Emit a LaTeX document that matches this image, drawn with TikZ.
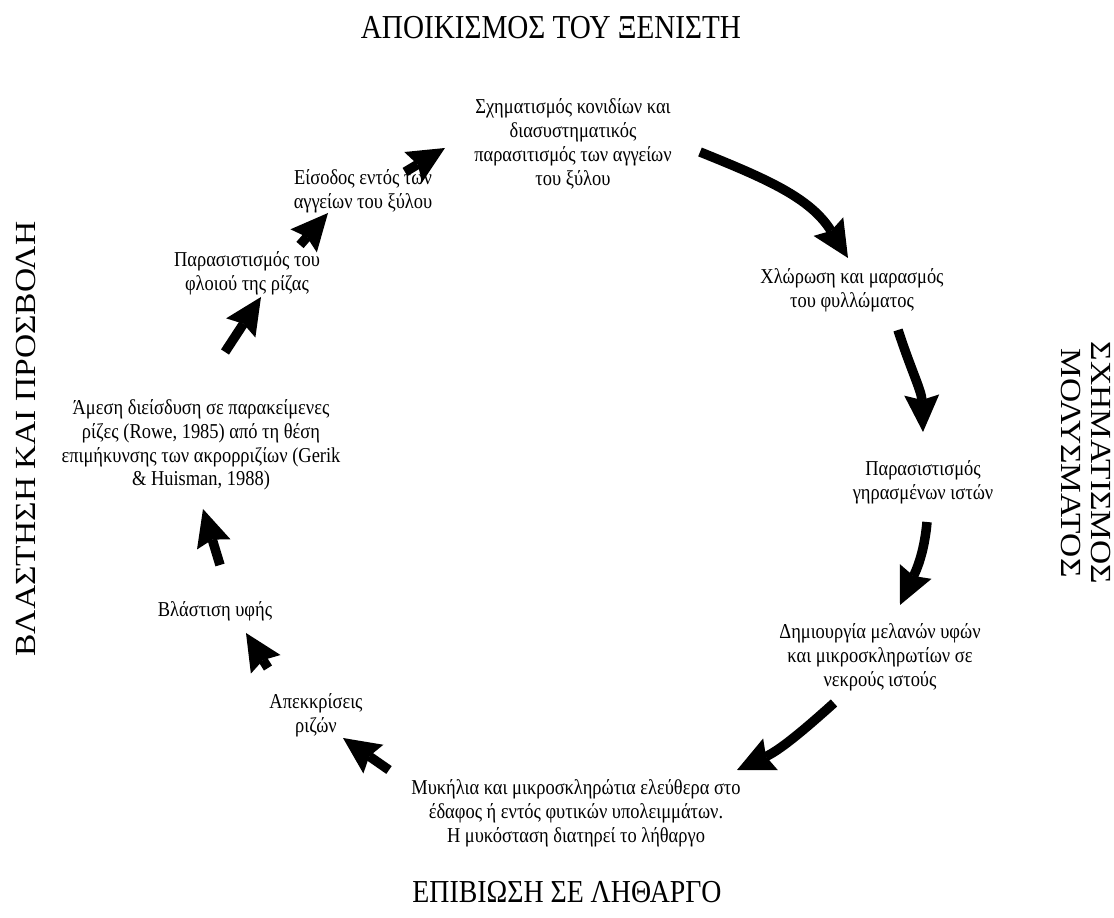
\documentclass[tikz,border=0pt]{standalone}
\usepackage{fontspec,graphicx}
\setmainfont{Liberation Serif}
\newfontfamily\narrowserif[FakeStretch=0.87]{Liberation Serif}
\newcommand\squeezed[1]{\scalebox{1}[0.87]{#1}}
\usetikzlibrary{arrows.meta}
\tikzset{>={Stealth[length=37pt,width=35pt,inset=5pt,line width=0pt]},
 every node/.style={font=\narrowserif\fontsize{21.2}{23.8}\selectfont},
 stage/.style={align=center,inner sep=0pt},
 phase/.style={font=\narrowserif\fontsize{33.5}{34.5}\selectfont,align=center,inner sep=0pt},
 sidephase/.style={font=\fontsize{33.5}{34.5}\selectfont,inner sep=0pt},
 cyc/.style={line width=9.5pt,->}}

\begin{document}
\begin{tikzpicture}[x=1pt,y=1pt]
\useasboundingbox[fill=white] (0,0) rectangle (1114,918);
% phases of the cycle
\node[phase] (colon) at (551,890) {ΑΠΟΙΚΙΣΜΟΣ ΤΟΥ ΞΕΝΙΣΤΗ};
\node[phase,font=\narrowserif\fontsize{32}{33}\selectfont] (surv) at (567,26) {ΕΠΙΒΙΩΣΗ ΣΕ ΛΗΘΑΡΓΟ};
\node[sidephase,rotate=90] (germ) at (26,479) {\squeezed{ΒΛΑΣΤΗΣΗ ΚΑΙ ΠΡΟΣΒΟΛΗ}};
\node[sidephase,rotate=-90] (inoc) at (1082,455) {\squeezed{\begin{tabular}{@{}c@{}}ΣΧΗΜΑΤΙΣΜΟΣ\\ΜΟΛΥΣΜΑΤΟΣ\end{tabular}}};
% stages
\node[stage] (conid) at (573,774) {Σχηματισμός κονιδίων και\\διασυστηματικός\\παρασιτισμός των αγγείων\\του ξύλου};
\node[stage] (chlor) at (852,628) {Χλώρωση και μαρασμός\\του φυλλώματος};
\node[stage] (geras) at (923,436) {Παρασιστισμός\\γηρασμένων ιστών};
\node[stage] (melan) at (880,261) {Δημιουργία μελανών υφών\\και μικροσκληρωτίων σε\\νεκρούς ιστούς};
\node[stage] (mycel) at (576,105) {Μυκήλια και μικροσκληρώτια ελεύθερα στο\\έδαφος ή εντός φυτικών υπολειμμάτων.\\Η μυκόσταση διατηρεί το λήθαργο};
\node[stage] (ekkr) at (316,203) {Απεκκρίσεις\\ριζών};
\node[stage] (vlast) at (215,307) {Βλάστιση υφής};
\node[stage] (ames) at (201,473) {Άμεση διείσδυση σε παρακείμενες\\ρίζες (Rowe, 1985) από τη θέση\\επιμήκυνσης των ακρορριζίων (Gerik\\\& Huisman, 1988)};
\node[stage] (floi) at (247,645) {Παρασιστισμός του\\φλοιού της ρίζας};
\node[stage] (eisod) at (363,727) {Είσοδος εντός των\\αγγείων του ξύλου};
% arrows
\draw[cyc] ([shift={(127,-8)}]conid.center) to[out=-22,in=122] ([shift={(-4,32)}]chlor.center);
\draw[cyc] ([shift={(46,-40)}]chlor.center) to[out=-72,in=92] ([shift={(0,50)}]geras.center);
\draw[cyc] ([shift={(4,-40)}]geras.center) to[out=-95,in=65] ([shift={(20,52)}]melan.center);
\draw[cyc] ([shift={(-46,-46)}]melan.center) to[out=-138,in=25] ([shift={(161,43)}]mycel.center);
\draw[cyc] ([shift={(-187,43)}]mycel.center) -- ([shift={(27,-23)}]ekkr.center);
\draw[cyc] ([shift={(-48,47)}]ekkr.center) -- ([shift={(31,-22)}]vlast.center);
\draw[cyc] ([shift={(5,46)}]vlast.center) -- ([shift={(2,-64)}]ames.center);
\draw[cyc] ([shift={(24,93)}]ames.center) -- ([shift={(14,-24)}]floi.center);
\draw[cyc] ([shift={(53,28)}]floi.center) -- ([shift={(-35,-22)}]eisod.center);
\draw[cyc] ([shift={(42,19)}]eisod.center) -- ([shift={(-128,-4)}]conid.center);
\end{tikzpicture}
\end{document}
